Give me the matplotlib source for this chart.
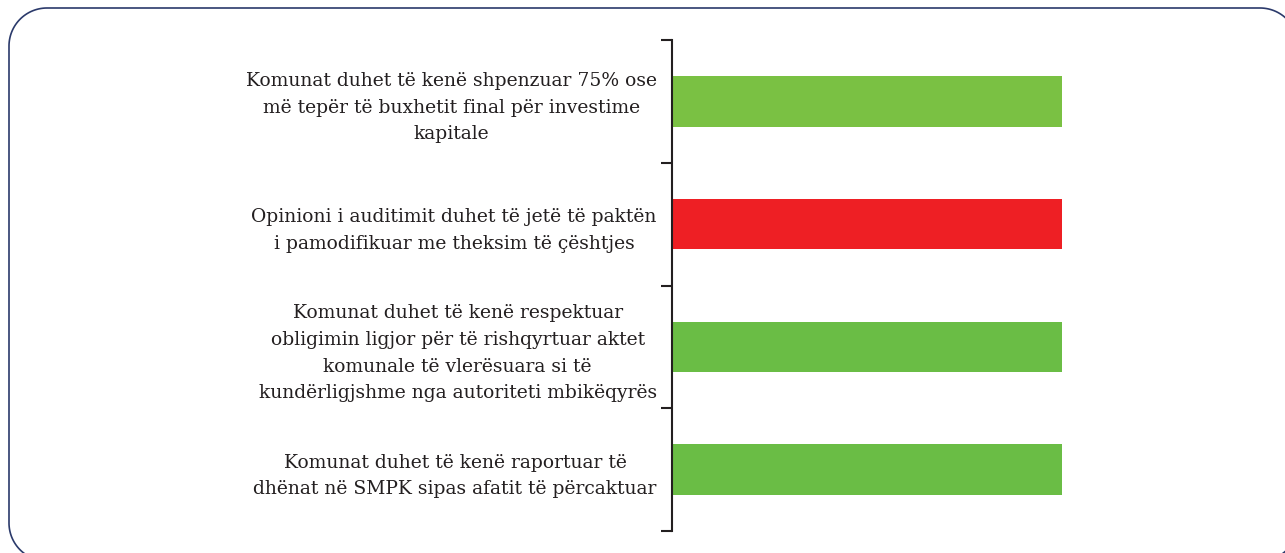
import matplotlib
matplotlib.use('Agg')
import matplotlib.pyplot as plt
import numpy as np
from matplotlib.lines import Line2D
from matplotlib.transforms import IdentityTransform

# criteria labels, top to bottom
labels = [
    'Komunat duhet të kenë shpenzuar 75% ose\nmë tepër të buxhetit final për investime\nkapitale',
    'Opinioni i auditimit duhet të jetë të paktën\ni pamodifikuar me theksim të çështjes',
    'Komunat duhet të kenë respektuar\nobligimin ligjor për të rishqyrtuar aktet\nkomunale të vlerësuara si të\nkundërligjshme nga autoriteti mbikëqyrës',
    'Komunat duhet të kenë raportuar të\ndhënat në SMPK sipas afatit të përcaktuar',
]
values = [100, 100, 100, 100]
colors = ['#7AC143', '#EE1F24', '#6ABD45', '#6ABD45']

plt.rcParams['font.family'] = ['DejaVu Serif']

W, H = 1285, 553
fig = plt.figure(figsize=(W / 100, H / 100), dpi=100)
ax = fig.add_axes([672 / W, 1 - 531 / H, (1062 - 672) / W, (531 - 40) / H])

ypos = list(range(len(labels)))
ax.barh(ypos, values, height=0.41, color=colors)

ax.set_xlim(0, 100)
ax.set_ylim(len(labels) - 0.5, -0.5)

# boundary ticks on the axis, labels centred in each band
ax.set_yticks([i - 0.5 for i in range(len(labels) + 1)])
ax.set_yticklabels([])
ax.tick_params(axis='y', which='major', length=8, width=1.5, color='#231F20')
ax.set_yticks(ypos, minor=True)
ax.set_yticklabels(labels, minor=True, multialignment='center', fontsize=13.5, color='#231F20',
                   linespacing=1.62)
ax.tick_params(axis='y', which='minor', length=0, pad=11)
ax.set_xticks([])

for s in ['top', 'right', 'bottom']:
    ax.spines[s].set_visible(False)
ax.spines['left'].set_linewidth(1.5)
ax.spines['left'].set_color('#231F20')

# rounded frame around the chart (pixel coords, y from top)
x0, x1, y0, y1, r = 9, 1298, 8, 561, 38
t = np.linspace(0, np.pi / 2, 30)
xs, ys = [], []
for cx, cy, a0 in [(x1 - r, y0 + r, 0), (x0 + r, y0 + r, np.pi / 2),
                   (x0 + r, y1 - r, np.pi), (x1 - r, y1 - r, 1.5 * np.pi)]:
    a = a0 + t
    xs.extend(cx + r * np.cos(a))
    ys.extend(cy - r * np.sin(a))
xs.append(xs[0])
ys.append(ys[0])
frame = Line2D(xs, [H - y for y in ys], transform=IdentityTransform(),
               color='#2B3A6B', linewidth=1.2)
fig.lines.append(frame)

plt.savefig('out.png', dpi=100)
plt.close()
